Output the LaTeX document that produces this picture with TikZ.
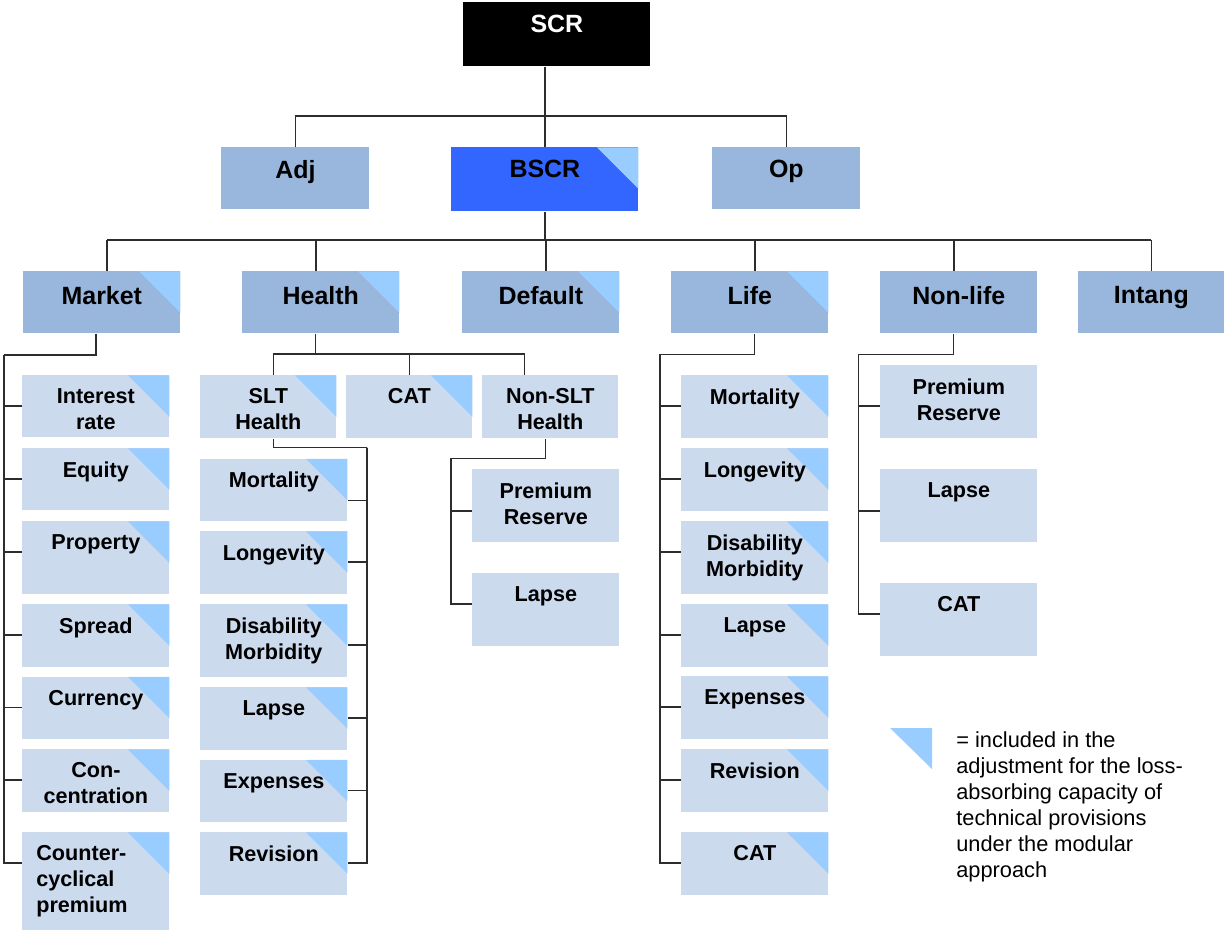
\documentclass[tikz,border=0pt]{standalone}
\usepackage{fontspec}
\setmainfont{Liberation Sans}
\usetikzlibrary{calc}

\definecolor{topblue}{RGB}{153,182,220}
\definecolor{subblue}{RGB}{204,218,238}
\definecolor{lacblue}{RGB}{153,204,255}
\definecolor{bscrblue}{RGB}{51,102,255}
\definecolor{linegray}{RGB}{45,45,45}

\tikzset{
	sz/.style 2 args={rectangle, anchor=north west, inner sep=0pt,
		minimum width=#1*0.02cm, minimum height=#2*0.02cm},
	topbox/.style={fill=topblue},
	subbox/.style={fill=subblue},
	lac/.style={path picture={\fill[lacblue] (path picture bounding box.north east)
		-- ++(-0.83cm,0) -- ++(0.83cm,-0.83cm) -- cycle;}},
	toptxt/.style={anchor=north, align=center, inner xsep=0pt, inner ysep=0.3cm,
		font=\bfseries\fontsize{14.2}{17}\selectfont},
	subtxt/.style={anchor=north, align=center, inner xsep=0pt, inner ysep=0.268cm,
		font=\bfseries\fontsize{12.3}{14.6}\selectfont},
	legtxt/.style={anchor=north west, align=left, inner sep=0pt,
		font=\fontsize{12.4}{14.8}\selectfont},
	conn/.style={draw=linegray, line width=0.8pt}
}

\begin{document}
\begin{tikzpicture}[x=0.02cm, y=-0.02cm]

	  \useasboundingbox (0,0) rectangle (1224,930);

	  %----------------------------------------------------------------
	  \node [sz={187}{64}, fill=black, label={[toptxt, inner ysep=0.26cm, text=white]north:SCR}] (scr) at (463,2) {};

	  \node [sz={148}{62}, topbox, label={[toptxt, inner ysep=0.26cm]north:Adj}] (adj) at (221,147) {};
	  \node [sz={187}{64}, fill=bscrblue, lac, label={[toptxt, inner ysep=0.26cm]north:BSCR}] (bscr) at (451,147) {};
	  \node [sz={148}{62}, topbox, label={[toptxt, inner ysep=0.26cm]north:Op}] (op) at (712,147) {};

	  \draw [conn] (bscr.north) -- (bscr.north |- scr.south);
	  \draw [conn] (adj.north) -- ++(0,-31) -| (op.north);

	  %----------------------------------------------------------------
	  \node [sz={157}{62}, topbox, lac, label={[toptxt]north:Market}] (mkt) at (23,271) {};
	  \node [sz={157}{62}, topbox, lac, label={[toptxt]north:Health}] (hlth) at (242,271) {};
	  \node [sz={157}{62}, topbox, lac, label={[toptxt]north:Default}] (dflt) at (462,271) {};
	  \node [sz={157}{62}, topbox, lac, label={[toptxt]north:Life}] (life) at (671,271) {};
	  \node [sz={157}{62}, topbox, label={[toptxt]north:Non-life}] (nonlife) at (880,271) {};
	  \node [sz={146}{62}, topbox, label={[toptxt]north:Intang}] (intang) at (1078,271) {};

	  \draw [conn] (bscr.south) -- ++(0,29);
	  \draw [conn] ($(mkt.north)+(5,-31)$) -- ($(intang.north)+(0,-31)$);
	  \foreach \n/\dx in {mkt/5, hlth/-5, dflt/5, life/5, nonlife/-5, intang/0}
	    \draw [conn] ($(\n.north)+(\dx,0)$) -- ++(0,-31);

	  %----------------------------------------------------------------
	  % market
	  \node [sz={147}{62}, subbox, lac, label={[subtxt]north:Interest\\rate}] (irate) at (22,375) {};
	  \node [sz={147}{62}, subbox, lac, label={[subtxt]north:Equity}] (equity) at (22,448) {};
	  \node [sz={147}{72.5}, subbox, lac, label={[subtxt]north:Property}] (property) at (22,521) {};
	  \node [sz={147}{62.5}, subbox, lac, label={[subtxt]north:Spread}] (spread) at (22,604) {};
	  \node [sz={147}{62}, subbox, lac, label={[subtxt]north:Currency}] (currency) at (22,676.5) {};
	  \node [sz={147}{62.5}, subbox, lac, label={[subtxt]north:Con-\\centration}] (conc) at (22,749) {};
	  \node [sz={147}{98}, subbox, lac, label={[subtxt, anchor=north west, align=left, inner xsep=0.28cm]north west:Counter-\\cyclical\\premium}] (ccp) at (22,832) {};

	  \coordinate (mktrail) at (4,355);
	  \draw [conn] ($(mkt.south)+(-6,0)$) |- (mktrail);
	  \foreach \n in {irate, equity, property, spread, currency, conc, ccp}
	    \draw [conn] (mktrail) |- ($(\n.north west)+(0,31)$);

	  %----------------------------------------------------------------
	  % health
	  \node [sz={136}{63}, subbox, lac, label={[subtxt]north:SLT\\Health}] (slt) at (200,375) {};
	  \node [sz={126}{63}, subbox, lac, label={[subtxt]north:CAT}] (hcat) at (346,375) {};
	  \node [sz={136}{63}, subbox, label={[subtxt]north:Non-SLT\\Health}] (nonslt) at (482,375) {};

	  \draw [conn] ($(hlth.south)+(-5.5,0)$) -- ++(0,21);
	  \draw [conn] ($(slt.north)+(5,0)$) -- ++(0,-21) -| ($(nonslt.north)+(-26,0)$);
	  \draw [conn] (hcat.north) -- ++(0,-21);

	  \node [sz={147}{62}, subbox, lac, label={[subtxt]north:Mortality}] (sltmort) at (200,458.5) {};
	  \node [sz={147}{62.5}, subbox, lac, label={[subtxt]north:Longevity}] (sltlong) at (200,531) {};
	  \node [sz={147}{72.5}, subbox, lac, label={[subtxt]north:Disability\\Morbidity}] (sltdis) at (200,604) {};
	  \node [sz={147}{62.5}, subbox, lac, label={[subtxt]north:Lapse}] (sltlapse) at (200,687) {};
	  \node [sz={147}{62.5}, subbox, lac, label={[subtxt]north:Expenses}] (sltexp) at (200,759.5) {};
	  \node [sz={147}{63}, subbox, lac, label={[subtxt]north:Revision}] (sltrev) at (200,832) {};

	  \coordinate (sltrail) at (367,447.7);
	  \draw [conn] ($(slt.south)+(5,0)$) |- (sltrail);
	  \foreach \n/\dy in {sltmort/42, sltlong/31, sltdis/41, sltlapse/31, sltexp/31, sltrev/31}
	    \draw [conn] (sltrail) |- ($(\n.north east)+(0,\dy)$);

	  \node [sz={147}{72.5}, subbox, label={[subtxt]north:Premium\\Reserve}] (nslprem) at (472,469) {};
	  \node [sz={147}{72.5}, subbox, label={[subtxt]north:Lapse}] (nsllapse) at (472,573) {};

	  \coordinate (nslrail) at (451,458.3);
	  \draw [conn] ($(nonslt.south)+(-5,0)$) |- (nslrail);
	  \foreach \n/\dy in {nslprem/42, nsllapse/31}
	    \draw [conn] (nslrail) |- ($(\n.north west)+(0,\dy)$);

	  %----------------------------------------------------------------
	  % life
	  \node [sz={147}{62.5}, subbox, lac, label={[subtxt]north:Mortality}] (lmort) at (681,375) {};
	  \node [sz={147}{62.5}, subbox, lac, label={[subtxt]north:Longevity}] (llong) at (681,448) {};
	  \node [sz={147}{72.5}, subbox, lac, label={[subtxt]north:Disability\\Morbidity}] (ldis) at (681,521) {};
	  \node [sz={147}{62.5}, subbox, lac, label={[subtxt]north:Lapse}] (llapse) at (681,604) {};
	  \node [sz={147}{62.5}, subbox, lac, label={[subtxt]north:Expenses}] (lexp) at (681,676) {};
	  \node [sz={147}{62.5}, subbox, lac, label={[subtxt]north:Revision}] (lrev) at (681,749) {};
	  \node [sz={147}{62.5}, subbox, lac, label={[subtxt]north:CAT}] (lcat) at (681,832) {};

	  \coordinate (liferail) at (660,354.3);
	  \draw [conn] ($(life.south)+(4.5,0)$) |- (liferail);
	  \foreach \n in {lmort, llong, ldis, llapse, lexp, lrev, lcat}
	    \draw [conn] (liferail) |- ($(\n.north west)+(0,31)$);

	  %----------------------------------------------------------------
	  % non-life
	  \node [sz={157}{72.5}, subbox, label={[subtxt]north:Premium\\Reserve}] (nlprem) at (880,365) {};
	  \node [sz={157}{72.5}, subbox, label={[subtxt]north:Lapse}] (nllapse) at (880,469) {};
	  \node [sz={157}{72.5}, subbox, label={[subtxt]north:CAT}] (nlcat) at (880,583) {};

	  \coordinate (nlrail) at (858.6,354.3);
	  \draw [conn] ($(nonlife.south)+(-5.5,0)$) |- (nlrail);
	  \foreach \n/\dy in {nlprem/41, nllapse/42, nlcat/31}
	    \draw [conn] (nlrail) |- ($(\n.north west)+(0,\dy)$);

	  %----------------------------------------------------------------
	  % legend
	  \fill [lacblue] (890,728) -- (932,728) -- (932,769) -- cycle;
	  \node [legtxt] (legend) at (956,731.5) {= included in the\\adjustment for the loss-\\absorbing capacity of\\technical provisions\\under the modular\\approach};

\end{tikzpicture}
\end{document}
